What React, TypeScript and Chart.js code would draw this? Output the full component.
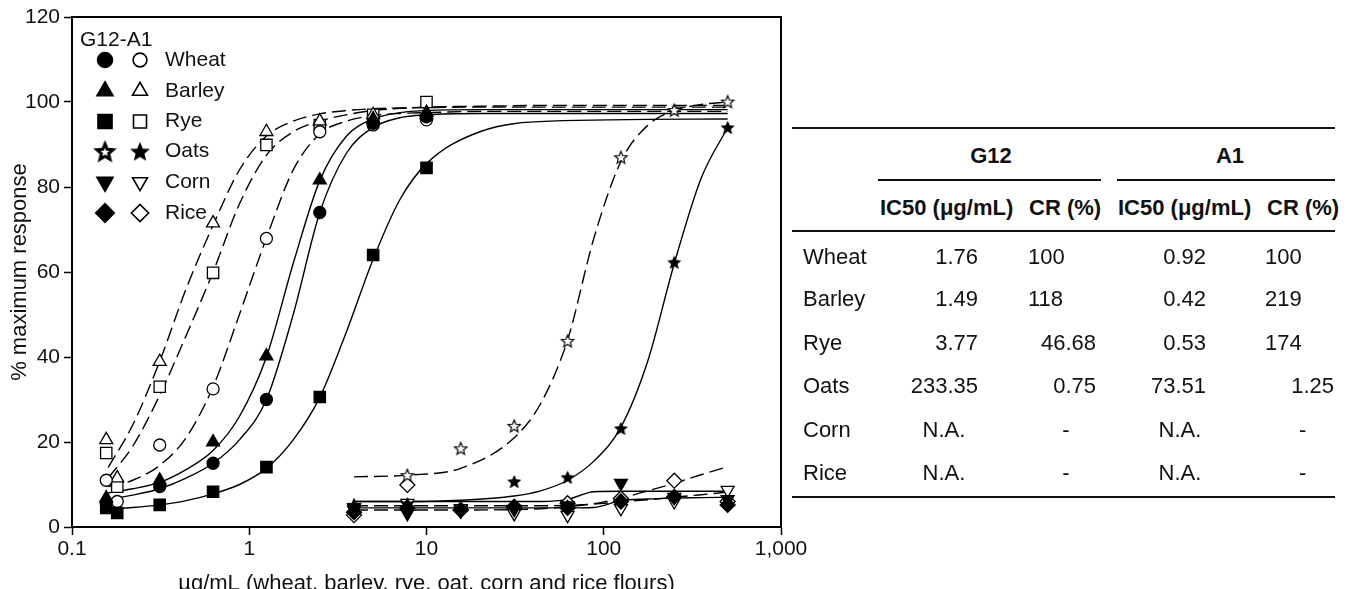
import React, { useEffect, useRef } from 'react';
import { Chart, registerables } from 'chart.js';
import { drawPoint } from 'chart.js/helpers';

Chart.register(...registerables);

const FONT = '"Liberation Sans", Arial, Helvetica, sans-serif';
const INK = '#111';

// ---------- axes ----------
const xTickValues = [0.1, 1, 10, 100, 1000];
const xTickLabels = ['0.1', '1', '10', '100', '1,000'];
const yMin = 0;
const yMax = 120;
const yStep = 20;
const xAxisTitle = 'µg/mL (wheat, barley, rye, oat, corn and rice flours)';
const yAxisTitle = '% maximum response';

// ---------- legend ----------
const legendTitle = 'G12-A1';
const cropNames = ['Wheat', 'Barley', 'Rye', 'Oats', 'Corn', 'Rice'];

// ---------- measured concentrations ----------
const concLow = [0.156, 0.3125, 0.625, 1.25, 2.5, 5, 10];
const concLowExtra = [0.156, 0.18, 0.3125, 0.625, 1.25, 2.5, 5, 10];
const concHigh = [3.9, 7.8, 15.6, 31.25, 62.5, 125, 250, 500];

// ---------- measured points (% maximum response) ----------
const wheatG12 = [5.5, 9.5, 15, 30, 74, 95, 96.5];
const barleyG12 = [6.8, 11, 20, 40.2, 81.6, 96, 97];
const ryeG12 = [4.5, 3.3, 5.2, 8.3, 14.1, 30.6, 64, 84.5];
const wheatA1 = [11, 6, 19.3, 32.5, 67.9, 93, 94.6, 95.8];
const barleyA1 = [20.5, 11.5, 38.9, 71.5, 93, 95.5, 97, 97.5];
const ryeA1 = [17.4, 9.5, 33, 59.8, 89.9, 94.6, 97, 100];
const oatsG12 = [5, 5.5, 4.5, 10.7, 11.7, 23.2, 62.3, 94];
const oatsA1 = [5.2, 12.2, 18.5, 23.8, 43.8, 87, 98.1, 100.1];
const cornG12 = [4.5, 3.2, 3.8, 4.2, 5, 10.3, 7, 6.5];
const cornA1 = [4, 5.6, 4.4, 3.2, 2.8, 4.4, 6, 8.7];
const riceG12 = [3.5, 4.5, 4, 4.8, 4.5, 6, 7.1, 5.2];
const riceA1 = [2.8, 9.9, 4, 4.5, 5.6, 6.7, 10.9, 6];

// ---------- fitted curves ----------
const curveXLow = [0.16, 0.22, 0.3125, 0.44, 0.625, 0.88, 1.25, 1.77, 2.5, 3.54, 5, 7.07, 10, 20, 50, 500];
const wheatG12Fit = [6.5, 7.5, 9, 11.5, 15, 20.5, 30, 50, 74, 88, 94, 96.3, 97, 97.3, 97.3, 97.3];
const barleyG12Fit = [8, 9, 10.5, 13.5, 18, 26, 40, 62, 81.5, 92, 96, 97.5, 98, 98.2, 98.2, 98.2];
const ryeG12Fit = [4.3, 4.6, 5.2, 6.2, 7.8, 10, 13.8, 20.5, 30.5, 46, 63, 77, 85.5, 93, 95.5, 96];
const wheatA1Fit = [9.5, 11, 14.5, 21, 33, 50, 68, 84, 92.5, 95.5, 96.8, 97.3, 97.5, 97.8, 97.8, 97.8];
const barleyA1Fit = [14, 24, 39, 56, 71, 84, 92, 95.5, 97.2, 98, 98.4, 98.6, 98.7, 98.8, 98.8, 98.8];
const ryeA1Fit = [11.5, 19, 31, 45, 60, 76, 87.5, 93, 95.5, 97, 98, 98.5, 98.8, 99, 99.2, 99.2];

const curveXHigh = [3.9, 7.8, 15.6, 31.25, 44, 62.5, 88, 125, 177, 250, 354, 500];
const oatsG12Fit = [6, 6, 6.3, 7.3, 8.5, 11, 15.5, 23.5, 39, 62, 82, 94];
const oatsA1Fit = [11.8, 12.2, 13.8, 21, 29, 44, 68, 86, 94.5, 98, 99.4, 100];
const cornG12Fit = [6, 6, 6, 6, 6, 6.5, 8.3, 8.4, 8.4, 8.4, 8.4, 8.4];
const riceG12Fit = [4.5, 4.5, 4.5, 4.5, 4.5, 4.5, 4.6, 6.2, 6.6, 6.8, 6.9, 7];
const cornA1Fit = [5, 5, 5, 5, 5, 5.1, 5.4, 5.9, 6.4, 7, 7.6, 8.2];
const riceA1Fit = [4, 4, 4, 4.1, 4.3, 4.8, 5.5, 6.8, 8.5, 10.3, 12.3, 14.2];

// ---------- table ----------
const tableGroups = ['G12', 'A1'];
const tableSubHeads = ['IC50 (μg/mL)', 'CR (%)'];
const tableRows = ['Wheat', 'Barley', 'Rye', 'Oats', 'Corn', 'Rice'];
const g12IC50 = ['1.76', '1.49', '3.77', '233.35', 'N.A.', 'N.A.'];
const g12CR = ['100', '118', '46.68', '0.75', '-', '-'];
const a1IC50 = ['0.92', '0.42', '0.53', '73.51', 'N.A.', 'N.A.'];
const a1CR = ['100', '219', '174', '1.25', '-', '-'];

function makeStar(r: number, fill: string, stroke: string, lw: number, inner = 0.45) {
  const size = Math.ceil(2 * r + lw * 2 + 4);
  const c = document.createElement('canvas');
  c.width = size;
  c.height = size;
  const g = c.getContext('2d')!;
  const cx = size / 2;
  const cy = size / 2 + r * 0.1;
  g.beginPath();
  for (let i = 0; i < 10; i++) {
    const rad = i % 2 === 0 ? r : r * inner;
    const a = -Math.PI / 2 + (i * Math.PI) / 5;
    const px = cx + rad * Math.cos(a);
    const py = cy + rad * Math.sin(a);
    if (i === 0) g.moveTo(px, py);
    else g.lineTo(px, py);
  }
  g.closePath();
  g.fillStyle = fill;
  g.fill();
  g.lineWidth = lw;
  g.strokeStyle = stroke;
  g.lineJoin = 'miter';
  g.stroke();
  return c;
}

const pts = (xs: number[], ys: number[]) => xs.map((x, i) => ({ x, y: ys[i] }));

export default function App() {
  const ref = useRef<HTMLCanvasElement>(null);

  useEffect(() => {
    const canvas = ref.current!;
    const starFilled = makeStar(6.5, '#000', '#000', 1);
    const starOpen = makeStar(6.5, '#fff', '#000', 1.2);
    const legStarFilledCol = makeStar(8.5, '#fff', '#000', 3);
    const legStarOpenCol = makeStar(8.5, '#000', '#000', 1.5);

    // marker styles per crop
    const styles: any[] = [
      { pointStyle: 'circle', rotation: 0, r: 6 },
      { pointStyle: 'triangle', rotation: 0, r: 7.5 },
      { pointStyle: 'rect', rotation: 0, r: 8 },
      { pointStyle: 'star', rotation: 0, r: 7 },
      { pointStyle: 'triangle', rotation: 180, r: 7.5 },
      { pointStyle: 'rectRot', rotation: 0, r: 7.5 },
    ];

    const pointSets: [number[], number[], number, boolean][] = [
      [concLow, wheatG12, 0, true],
      [concLow, barleyG12, 1, true],
      [concLowExtra, ryeG12, 2, true],
      [concHigh, oatsG12, 3, true],
      [concHigh, cornG12, 4, true],
      [concHigh, riceG12, 5, true],
      [concLowExtra, wheatA1, 0, false],
      [concLowExtra, barleyA1, 1, false],
      [concLowExtra, ryeA1, 2, false],
      [concHigh, oatsA1, 3, false],
      [concHigh, cornA1, 4, false],
      [concHigh, riceA1, 5, false],
    ];

    const curveSets: [number[], number[], boolean][] = [
      [curveXLow, wheatG12Fit, true],
      [curveXLow, barleyG12Fit, true],
      [curveXLow, ryeG12Fit, true],
      [curveXHigh, oatsG12Fit, true],
      [curveXHigh, cornG12Fit, true],
      [curveXHigh, riceG12Fit, true],
      [curveXLow, wheatA1Fit, false],
      [curveXLow, barleyA1Fit, false],
      [curveXLow, ryeA1Fit, false],
      [curveXHigh, oatsA1Fit, false],
      [curveXHigh, cornA1Fit, false],
      [curveXHigh, riceA1Fit, false],
    ];

    const datasets: any[] = [];
    pointSets.forEach(([xs, ys, si, filled]) => {
      const st = styles[si];
      const isStar = st.pointStyle === 'star';
      datasets.push({
        type: 'scatter',
        data: pts(xs, ys),
        showLine: false,
        order: 0,
        pointStyle: isStar ? (filled ? starFilled : starOpen) : st.pointStyle,
        rotation: st.rotation,
        pointRadius: st.r,
        pointBorderWidth: 1.3,
        backgroundColor: filled ? '#000' : '#fff',
        pointBackgroundColor: filled ? '#000' : '#fff',
        borderColor: '#000',
        pointBorderColor: '#000',
      });
    });
    curveSets.forEach(([xs, ys, solid]) => {
      datasets.push({
        type: 'scatter',
        data: pts(xs, ys),
        showLine: true,
        order: 1,
        pointRadius: 0,
        borderColor: '#000',
        borderWidth: 1.4,
        borderDash: solid ? [] : [14, 6],
        cubicInterpolationMode: 'monotone',
        fill: false,
      });
    });

    const legendPlugin = {
      id: 'customLegend',
      afterDraw(chart: any) {
        const ctx = chart.ctx as CanvasRenderingContext2D;
        ctx.save();
        ctx.font = `21px ${FONT}`;
        ctx.fillStyle = INK;
        ctx.textBaseline = 'middle';
        ctx.textAlign = 'left';
        ctx.fillText(legendTitle, 80, 40);
        const rowY = [60, 91, 121.5, 151.5, 182, 213];
        cropNames.forEach((name, i) => {
          const y = rowY[i];
          const st = styles[i];
          const isStar = st.pointStyle === 'star';
          // filled (G12)
          ctx.fillStyle = '#000';
          ctx.strokeStyle = '#000';
          ctx.lineWidth = 1.5;
          drawPoint(ctx, { pointStyle: isStar ? legStarFilledCol : st.pointStyle, rotation: st.rotation, radius: st.r * 1.25, borderWidth: 1.5 } as any, 105, y);
          // open (A1)
          ctx.fillStyle = '#fff';
          ctx.strokeStyle = '#000';
          ctx.lineWidth = 1.6;
          drawPoint(ctx, { pointStyle: isStar ? legStarOpenCol : st.pointStyle, rotation: st.rotation, radius: st.r * 1.15, borderWidth: 1.6 } as any, 140, y);
          ctx.fillStyle = INK;
          ctx.fillText(name, 165, y);
        });
        ctx.restore();
      },
    };

    const boxPlugin = {
      id: 'plotBox',
      beforeDatasetsDraw(chart: any) {
        const { left, top, right, bottom } = chart.chartArea;
        const ctx = chart.ctx as CanvasRenderingContext2D;
        ctx.save();
        ctx.strokeStyle = '#000';
        ctx.lineWidth = 2;
        ctx.strokeRect(left, top, right - left, bottom - top);
        ctx.restore();
      },
    };

    const chart = new Chart(canvas, {
      type: 'scatter',
      data: { datasets },
      options: {
        animation: false,
        responsive: false,
        events: [],
        layout: { padding: { left: 0, right: 49, top: 17, bottom: 0 } },
        plugins: { legend: { display: false }, tooltip: { enabled: false } },
        scales: {
          x: {
            type: 'logarithmic',
            position: 'bottom',
            min: 0.1,
            max: 1000,
            afterBuildTicks: (scale: any) => {
              scale.ticks = xTickValues.map((v) => ({ value: v }));
            },
            afterFit: (scale: any) => {
              scale.height = 73;
            },
            ticks: {
              autoSkip: false,
              maxRotation: 0,
              padding: 2,
              color: INK,
              font: { family: FONT, size: 21 },
              callback: (_v: any, i: number) => xTickLabels[i],
            },
            grid: { display: true, drawOnChartArea: false, drawTicks: true, tickLength: 8, tickColor: '#000', tickWidth: 1.5 },
            border: { display: true, color: '#000', width: 2 },
            title: {
              display: true,
              text: xAxisTitle,
              color: INK,
              font: { family: FONT, size: 22, lineHeight: 1.2 },
              padding: { top: 0, bottom: 3 },
            },
          },
          y: {
            type: 'linear',
            min: yMin,
            max: yMax,
            afterFit: (scale: any) => {
              scale.width = 72;
            },
            ticks: {
              stepSize: yStep,
              padding: 4,
              color: INK,
              font: { family: FONT, size: 21 },
            },
            grid: { display: true, drawOnChartArea: false, drawTicks: true, tickLength: 8, tickColor: '#000', tickWidth: 1.5 },
            border: { display: true, color: '#000', width: 2 },
            title: {
              display: true,
              text: yAxisTitle,
              color: INK,
              font: { family: FONT, size: 22, lineHeight: 1.2 },
              padding: { top: 7, bottom: 0 },
            },
          },
        },
      },
      plugins: [boxPlugin, legendPlugin],
    } as any);

    return () => chart.destroy();
  }, []);

  // ----- table layout -----
  const rowY = [256.6, 299, 342.6, 386, 430, 473];
  const cols = [
    { values: g12IC50, right: 978, left: null as number | null, center: 944 },
    { values: g12CR, right: 1096, left: 1028 as number | null, center: 1066 },
    { values: a1IC50, right: 1206, left: null as number | null, center: 1180 },
    { values: a1CR, right: 1334, left: 1265 as number | null, center: 1302.6 },
  ];
  const textBase: React.CSSProperties = {
    position: 'absolute',
    fontFamily: FONT,
    fontSize: 22,
    lineHeight: '24px',
    height: 24,
    color: INK,
    whiteSpace: 'nowrap',
  };
  const cell = (text: string, c: any, cy: number, key: string) => {
    const top = cy - 12;
    const isNum = /^[0-9.]+$/.test(text);
    if (isNum && text.includes('.')) {
      return <div key={key} style={{ ...textBase, top, right: 1349 - c.right, textAlign: 'right' }}>{text}</div>;
    }
    if (isNum) {
      if (c.left !== null) return <div key={key} style={{ ...textBase, top, left: c.left }}>{text}</div>;
      return <div key={key} style={{ ...textBase, top, right: 1349 - c.right, textAlign: 'right' }}>{text}</div>;
    }
    return <div key={key} style={{ ...textBase, top, left: c.center - 100, width: 200, textAlign: 'center' }}>{text}</div>;
  };
  const hline = (x1: number, x2: number, y: number, key: string) => (
    <div key={key} style={{ position: 'absolute', left: x1, top: y - 1, width: x2 - x1, height: 2, background: '#111' }} />
  );

  return (
    <div style={{ position: 'absolute', left: 0, top: 0, width: 1349, height: 589, overflow: 'hidden', background: '#fff' }}>
      <canvas ref={ref} width={830} height={600} style={{ position: 'absolute', left: 0, top: 0, display: 'block' }} />
      {hline(792, 1335, 127.5, 'l-top')}
      {hline(878, 1101, 180, 'l-g12')}
      {hline(1117, 1335, 180, 'l-a1')}
      {hline(792, 1335, 231, 'l-sub')}
      {hline(792, 1335, 497, 'l-bot')}
      <div style={{ ...textBase, fontWeight: 'bold', top: 156 - 12, left: 991 - 100, width: 200, textAlign: 'center' }}>{tableGroups[0]}</div>
      <div style={{ ...textBase, fontWeight: 'bold', top: 156 - 12, left: 1230 - 100, width: 200, textAlign: 'center' }}>{tableGroups[1]}</div>
      <div style={{ ...textBase, fontWeight: 'bold', top: 207.5 - 12, left: 880 }}>{tableSubHeads[0]}</div>
      <div style={{ ...textBase, fontWeight: 'bold', top: 207.5 - 12, left: 1029 }}>{tableSubHeads[1]}</div>
      <div style={{ ...textBase, fontWeight: 'bold', top: 207.5 - 12, left: 1118 }}>{tableSubHeads[0]}</div>
      <div style={{ ...textBase, fontWeight: 'bold', top: 207.5 - 12, left: 1267 }}>{tableSubHeads[1]}</div>
      {tableRows.map((name, r) => (
        <React.Fragment key={name}>
          <div style={{ ...textBase, top: rowY[r] - 12, left: 803 }}>{name}</div>
          {cols.map((c, ci) => cell(c.values[r], c, rowY[r], `${name}-${ci}`))}
        </React.Fragment>
      ))}
    </div>
  );
}
